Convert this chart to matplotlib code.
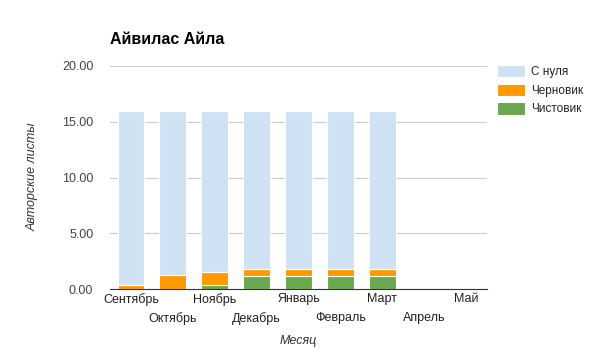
import matplotlib
matplotlib.use("Agg")
import matplotlib.pyplot as plt
import numpy as np

plt.rcParams['font.family'] = ['Liberation Sans', 'DejaVu Sans']

months = ["Сентябрь", "Октябрь", "Ноябрь", "Декабрь", "Январь", "Февраль", "Март", "Апрель", "Май"]
clean = [0.0, 0.0, 0.35, 1.13, 1.13, 1.13, 1.13, 0.0, 0.0]
draft = [0.4, 1.3, 1.17, 0.62, 0.62, 0.62, 0.62, 0.0, 0.0]
scratch = [15.6, 14.7, 14.48, 14.25, 14.25, 14.25, 14.25, 0.0, 0.0]
yticks = [0, 5, 10, 15, 20]

fig = plt.figure(figsize=(5.95, 3.54), dpi=100)
ax = fig.add_axes([110/595, 1-289/354, 377/595, (289-66)/354])

x = np.arange(len(months))
w = 0.64
c_clean = "#6aa84f"
c_draft = "#ff9900"
c_scratch = "#cfe2f3"
ax.bar(x, clean, w, color=c_clean, label="Чистовик", edgecolor="white", linewidth=0.8)
ax.bar(x, draft, w, bottom=clean, color=c_draft, label="Черновик", edgecolor="white", linewidth=0.8)
b2 = np.array(clean) + np.array(draft)
ax.bar(x, scratch, w, bottom=b2, color=c_scratch, label="С нуля", edgecolor="white", linewidth=0.8)

ax.set_xlim(-0.5, len(months) - 0.5)
ax.set_ylim(0, 20)
ax.set_yticks(yticks)
ax.set_yticklabels([f"{v:.2f}" for v in yticks], fontsize=9, color="#444444")
ax.grid(axis='y', color="#cccccc", linewidth=0.8)
ax.set_axisbelow(True)
for s in ["top", "right", "left"]:
    ax.spines[s].set_visible(False)
ax.spines["bottom"].set_color("#333333")
ax.tick_params(axis='both', length=0)
ax.tick_params(axis='y', pad=12)

ax.set_xticks(x)
ax.set_xticklabels([])
for i, m in enumerate(months):
    yoff = -0.02 if i % 2 == 0 else -0.105
    ax.text(i, yoff, m, transform=ax.get_xaxis_transform(), ha='center', va='top',
            fontsize=9, color="#222222")

fig.text(0.5 * (110 + 487) / 595, 1-341/354, "Месяц", ha='center', va='center',
         fontsize=9, style='italic', color="#333333")
fig.text(33/595, 1-177/354, "Авторские листы", rotation=90, ha='center', va='center',
         fontsize=9, style='italic', color="#333333")
fig.text(110/595, 1-40/354, "Айвилас Айла", ha='left', va='center', fontsize=11.5,
         fontweight='bold', color="#000000")

handles, labels = ax.get_legend_handles_labels()
leg = fig.legend(handles[::-1], labels[::-1], loc='upper left', bbox_to_anchor=(497/595, 1-65/354),
                 frameon=False, fontsize=8.5, handlelength=2.4, handleheight=1.25,
                 labelspacing=0.45, handletextpad=0.5, borderaxespad=0, borderpad=0)
for t in leg.get_texts():
    t.set_color("#222222")

fig.savefig("out.png", dpi=100)
